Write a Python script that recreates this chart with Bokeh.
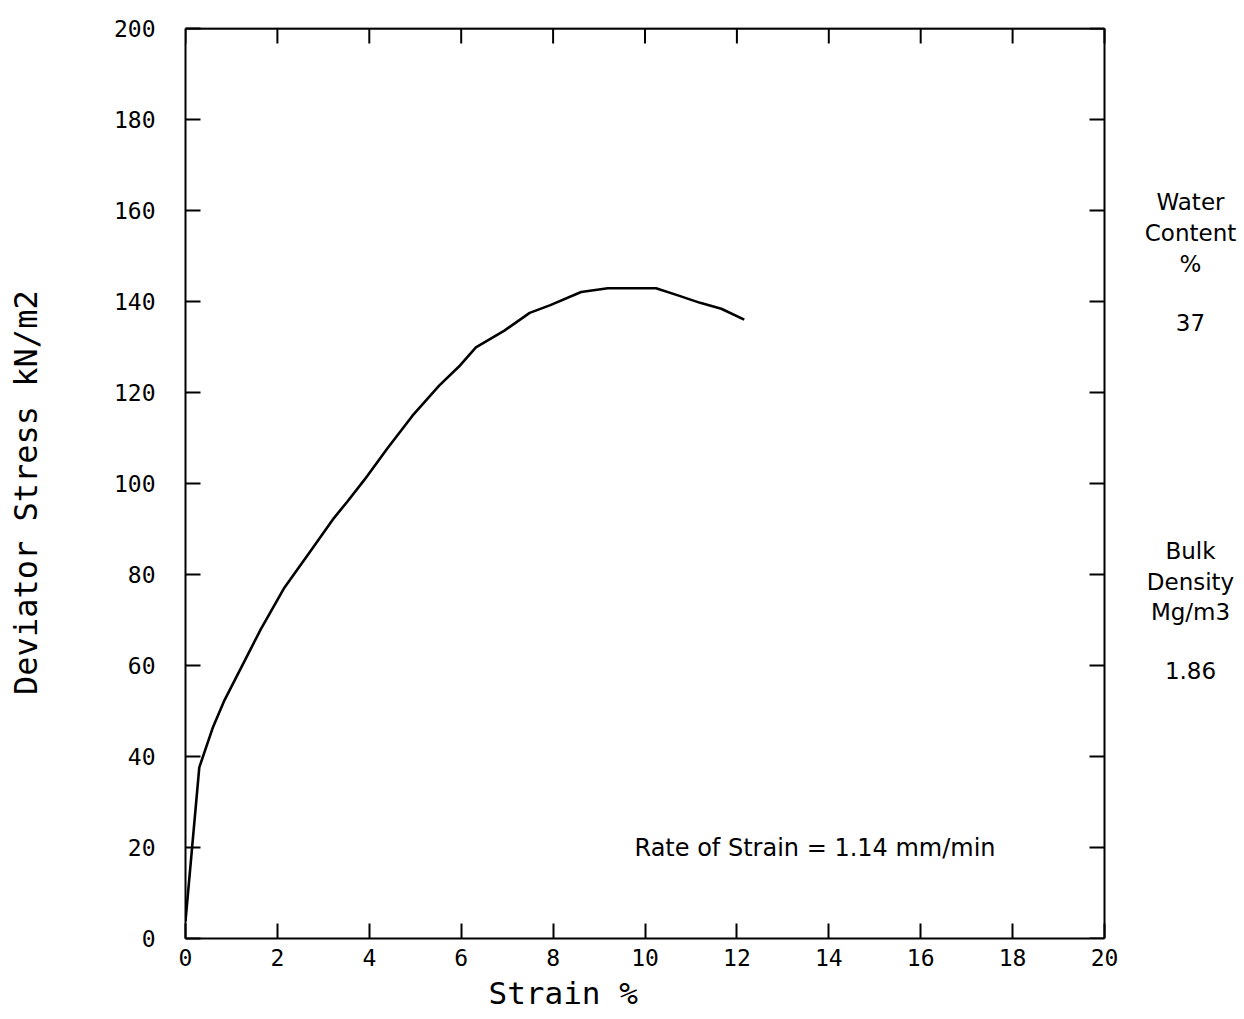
from bokeh.plotting import figure
from bokeh.models import Range1d, FixedTicker, Label, Title
from bokeh.embed import file_html
from bokeh.resources import INLINE

strain = [0.0, 0.3, 0.6, 0.85, 1.64, 2.14, 2.73, 3.23, 3.52, 3.9, 4.4, 4.94, 5.52,
          5.98, 6.32, 6.94, 7.49, 7.94, 8.61, 9.19, 10.24, 10.7, 11.2, 11.66, 12.16]
stress = [3.8, 37.6, 46.5, 52.4, 68.0, 76.9, 85.3, 92.4, 96.0, 100.9, 107.8, 114.9, 121.5,
          126.0, 129.9, 133.6, 137.5, 139.2, 142.1, 142.9, 142.9, 141.4, 139.7, 138.4, 136.0]

x_ticks = [0, 2, 4, 6, 8, 10, 12, 14, 16, 18, 20]
y_ticks = [0, 20, 40, 60, 80, 100, 120, 140, 160, 180, 200]

side_notes = ["Water", "Content", "%", "37", "Bulk", "Density", "Mg/m3", "1.86"]
note_y_px = [201, 232, 263, 322, 550, 581, 611, 670]
rate_text = "Rate of Strain = 1.14 mm/min"
x_title = "Strain %"
y_title = "Deviator Stress  kN/m2"

MONO = "DejaVu Sans Mono"
SANS = "DejaVu Sans"

XMIN, XMAX, YMIN, YMAX = 0, 20, 0, 200
PLOT_W, PLOT_H = 919, 910          # pixel size of the boxed plot area
EXTRA_W, EXTRA_H = 136, 1          # room on the right for the notes, top pad
FW, FH = PLOT_W + EXTRA_W, PLOT_H + EXTRA_H
x_view = XMAX + EXTRA_W * (XMAX - XMIN) / PLOT_W
y_view = YMAX + EXTRA_H * (YMAX - YMIN) / PLOT_H

p = figure(frame_width=FW, frame_height=FH, output_backend="svg",
           toolbar_location=None, x_range=Range1d(XMIN, x_view), y_range=Range1d(YMIN, y_view),
           min_border_left=185, min_border_right=0, min_border_top=27, min_border_bottom=40)
p.grid.visible = False
p.outline_line_color = None
p.background_fill_color = "white"
p.border_fill_color = "white"

for ax in (p.xaxis[0], p.yaxis[0]):
    ax.axis_line_color = "black"
    ax.axis_line_width = 2
    ax.major_tick_in = 15
    ax.major_tick_out = 0
    ax.major_tick_line_width = 2
    ax.minor_tick_line_color = None
    ax.major_label_text_font = MONO
    ax.major_label_text_font_size = "23px"
    ax.major_label_text_color = "black"

p.xaxis[0].ticker = FixedTicker(ticks=x_ticks)
p.yaxis[0].ticker = FixedTicker(ticks=y_ticks)
p.xaxis[0].bounds = (XMIN, XMAX)
p.yaxis[0].bounds = (YMIN, YMAX)
p.xaxis[0].major_label_standoff = 10
p.yaxis[0].major_label_standoff = 30
p.yaxis[0].axis_label = y_title
p.yaxis[0].axis_label_text_font = MONO
p.yaxis[0].axis_label_text_font_style = "normal"
p.yaxis[0].axis_label_text_font_size = "32px"
p.yaxis[0].axis_label_text_color = "black"
p.yaxis[0].axis_label_standoff = 66

# top and right edges of the box
p.segment(x0=[XMIN], y0=[YMAX], x1=[XMAX], y1=[YMAX], line_color="black", line_width=2.5)
p.segment(x0=[XMAX], y0=[YMIN], x1=[XMAX], y1=[YMAX], line_color="black", line_width=2)

# inward ticks on the top and right edges
tick_len_x = 15 * (XMAX - XMIN) / PLOT_W
tick_len_y = 15 * (YMAX - YMIN) / PLOT_H
p.segment(x0=x_ticks, y0=[YMAX] * len(x_ticks), x1=x_ticks,
          y1=[YMAX - tick_len_y] * len(x_ticks), line_color="black", line_width=2)
p.segment(x0=[XMAX] * len(y_ticks), y0=y_ticks, x1=[XMAX - tick_len_x] * len(y_ticks),
          y1=y_ticks, line_color="black", line_width=2)

p.line(strain, stress, line_color="black", line_width=2.6)

for t, yy in zip(side_notes, note_y_px):
    p.add_layout(Label(x=1190, y=yy, x_units="canvas", y_units="canvas", text=t,
                       text_align="center", text_baseline="middle",
                       text_font=SANS, text_font_size="23px", text_color="black"))

p.add_layout(Label(x=634, y=847, x_units="canvas", y_units="canvas", text=rate_text,
                   text_align="left", text_baseline="middle",
                   text_font=SANS, text_font_size="24px", text_color="black"))

p.add_layout(Title(text=x_title, align="left", offset=303, standoff=8,
                   text_font=MONO, text_font_size="31px", text_font_style="normal",
                   text_color="black"), "below")

open("out.html", "w").write(file_html(p, INLINE))
